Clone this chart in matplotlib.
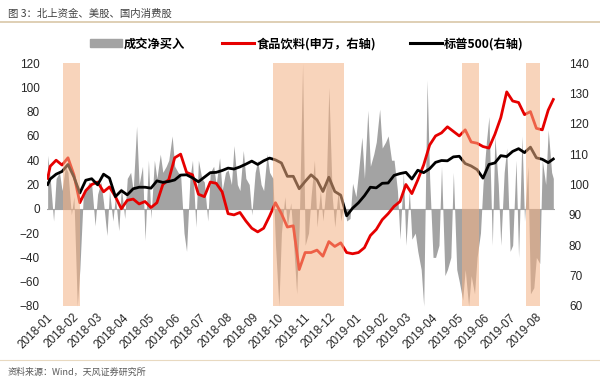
import numpy as np
import pandas as pd
import matplotlib
matplotlib.use("Agg")
import matplotlib.pyplot as plt
from matplotlib.lines import Line2D
from matplotlib.patches import Patch

plt.rcParams['font.family'] = ['Liberation Sans', 'Noto Sans CJK SC', 'DejaVu Sans']

# --- data (weekly samples) ---
line_dates = (['2018-01-02']
              + [d.strftime('%Y-%m-%d') for d in pd.date_range('2018-01-05', '2019-08-16', freq='W-FRI')]
              + ['2019-08-22'])
tue_dates = [d.strftime('%Y-%m-%d') for d in pd.date_range('2018-01-02', '2019-08-20', freq='W-TUE')]

# 食品饮料(申万), right axis
food_bev = [102,
            106, 108, 106.4, 108.8, 103.2, 94, 98, 100, 100.8, 97.6,
            99.2, 96, 92, 94.8, 95.2, 93.6, 94.4, 92.4, 94, 100,
            101.6, 108.8, 110, 104, 103.2, 96.8, 96, 100.8, 100.4, 97.6,
            90.4, 90, 90.8, 88, 85.6, 84.4, 85.6, 89.6, 94, 90.4,
            86, 86.4, 72, 77.6, 77.6, 78.4, 76.4, 81.2, 79.6, 80.8,
            77.6, 77.2, 77.6, 79.2, 83.2, 85.2, 88.4, 90.4, 92.8, 94.4,
            100, 97, 101.5, 106.5, 113, 116, 117, 119, 117.5, 116,
            118, 114, 113.6, 112.5, 112, 116.5, 122, 130.5, 127.5, 127,
            123, 124, 118.5, 118, 124.5, 128]

# 标普500, right axis
spx = [100.0,
       101.8, 103.4, 104.3, 106.6, 102.5, 97.2, 101.4, 101.9, 99.9, 103.4,
       102.1, 96.0, 98.0, 96.6, 98.6, 99.1, 99.1, 98.8, 101.2, 100.7,
       101.0, 101.5, 103.1, 103.2, 102.2, 100.9, 102.4, 103.9, 104.0, 104.6,
       105.4, 105.1, 105.8, 106.7, 107.7, 106.6, 107.8, 108.7, 108.1, 107.1,
       102.7, 102.7, 98.6, 101.0, 103.2, 101.5, 97.7, 102.4, 97.7, 96.5,
       89.7, 92.2, 94.0, 96.3, 99.1, 98.9, 100.4, 100.5, 103.0, 103.6,
       104.0, 101.8, 104.7, 103.9, 105.2, 107.3, 107.9, 107.8, 109.1, 109.3,
       106.9, 106.1, 104.9, 102.1, 106.6, 107.1, 109.5, 109.2, 110.9, 111.8,
       110.5, 112.3, 108.8, 108.3, 107.2, 108.4]

# 成交净买入, left axis (twice a week)
net_buy = [44, 25, -10, 25, 30, 15, 35, 30, -5, 10,
           -80, -50, 10, 15, 22, 20, -14, 12, 22, 5,
           -22, 15, -10, 10, -18, 18, -8, 25, 30, 15,
           68, 20, 35, -26, 40, -8, 40, 25, 45, 30,
           35, 40, 60, 35, 30, 28, -20, -35, 25, 40,
           -15, 40, 25, 22, -10, 30, 35, 20, 42, 15,
           30, 32, 20, 52, 20, 15, 48, 25, 20, -5,
           30, 40, 20, 15, 45, 30, 25, -30, -80, -20,
           10, -15, 5, -25, -70, -15, 120, -30, -20, 10,
           40, -15, 15, -10, 20, 100, 10, -15, 15, -10,
           5, -10, -8, 21, 10, 30, 59, 25, 81, 35,
           45, 55, 82, 50, 55, 60, 40, 40, 15, -25,
           30, -30, 15, -25, -20, -35, -50, -80, 106, 25,
           -40, -40, -30, 35, -55, -50, -40, 30, -50, -60,
           -75, -50, -80, -55, -70, -40, -20, 20, 55, 76,
           -30, 60, 20, -30, 30, 50, -35, -30, 40, -40,
           60, -10, 35, -70, -65, -40, -45, 40, 20, 65,
           30, 25]

# shaded periods
band_start = ['2018-01-20', '2018-09-25', '2019-05-06', '2019-07-21']
band_end = ['2018-02-09', '2018-12-18', '2019-05-26', '2019-08-06']

month_ticks = pd.date_range('2018-01-01', '2019-08-01', freq='MS')

# --- plot ---
ld = pd.to_datetime(line_dates)
gd = pd.to_datetime(sorted(tue_dates + line_dates[1:]))

fig = plt.figure(figsize=(6, 3.82), dpi=100)
ax = fig.add_axes([0.078, 0.199, 0.847, 0.636])
ax2 = ax.twinx()

gray = '#A3A3A3'
ax.fill_between(gd, 0, net_buy, color=gray, lw=0, interpolate=True, zorder=1)
ax.axhline(0, color=gray, lw=0.8, zorder=1)

ax2.plot(ld, food_bev, color='#E60000', lw=2.0, zorder=3)
ax2.plot(ld, spx, color='black', lw=2.0, zorder=3)
for s, e in zip(band_start, band_end):
    ax2.axvspan(pd.Timestamp(s), pd.Timestamp(e), color='#F4B183', alpha=0.55, lw=0, zorder=5)

ax.set_ylim(-80, 120)
ax.set_yticks(np.arange(-80, 121, 20))
ax2.set_ylim(60, 140)
ax2.set_yticks(np.arange(60, 141, 10))
ax.set_xlim(pd.Timestamp('2018-01-01'), pd.Timestamp('2019-08-24'))
ax.set_xticks(month_ticks)
ax.set_xticklabels([d.strftime('%Y-%m') for d in month_ticks], rotation=45,
                   ha='right', rotation_mode='anchor')

for a in (ax, ax2):
    for sp in a.spines.values():
        sp.set_visible(False)
    a.tick_params(length=0, labelsize=8.5, colors='#262626')
ax.tick_params(axis='y', pad=5)
ax2.tick_params(axis='y', pad=10)
ax.tick_params(axis='x', pad=4)

# legend, three entries placed like the original
legend_font = {'family': ['Noto Sans CJK SC', 'DejaVu Sans'], 'weight': 'bold', 'size': 8.8}
entries = [(Patch(color=gray), '成交净买入', 0.15),
           (Line2D([], [], color='#E60000', lw=2.2), '食品饮料(申万，右轴)', 0.37),
           (Line2D([], [], color='black', lw=2.2), '标普500(右轴)', 0.683)]
for h, lab, xpos in entries:
    lg = fig.legend([h], [lab], loc='center left', bbox_to_anchor=(xpos, 0.885),
                    frameon=False, prop=legend_font, borderpad=0, borderaxespad=0,
                    handlelength=2.6, handleheight=0.6, handletextpad=0.2)

# header / footer
fig.text(0.013, 0.963, '图 3：北上资金、美股、国内消费股', fontsize=7.5, color='#404040',
         family=['Noto Sans CJK SC', 'DejaVu Sans'], va='center')
fig.add_artist(Line2D([0.0, 1.0], [0.943, 0.943], color='#D9C7A8', lw=1.2))
fig.add_artist(Line2D([0.0, 1.0], [0.058, 0.058], color='#E8D9C0', lw=0.8))
fig.text(0.013, 0.026, '资料来源：Wind，天风证券研究所', fontsize=6.5, color='#595959',
         family=['Noto Sans CJK SC', 'DejaVu Sans'], va='center')

fig.savefig('out.png', dpi=100)
